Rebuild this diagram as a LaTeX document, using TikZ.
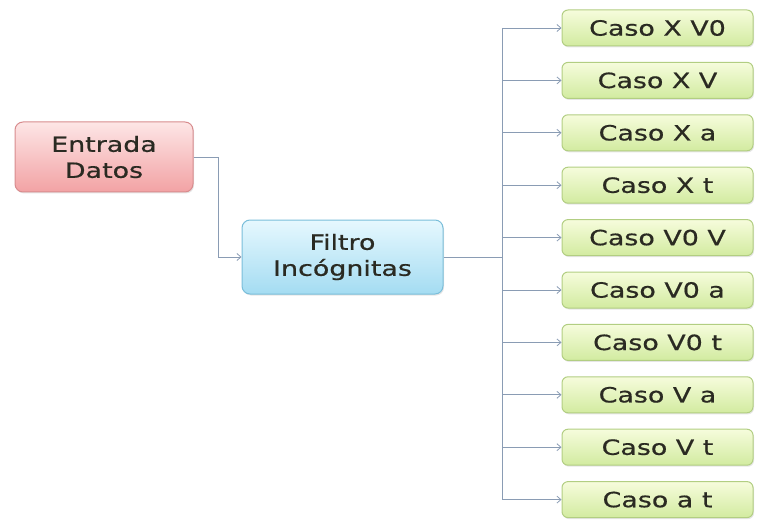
\documentclass[tikz,border=0pt]{standalone}
\usepackage{fontspec}
\setmainfont{DejaVu Sans}
\newfontfamily\boxfont[FakeStretch=1.28,FakeBold=0.6]{DejaVu Sans}
\usetikzlibrary{arrows.meta,shadows}
\definecolor{linec}{HTML}{8A9CB4}
\definecolor{redtop}{HTML}{FDE6E6}
\definecolor{redbot}{HTML}{F2A2A4}
\definecolor{redline}{HTML}{D88C8E}
\definecolor{bluetop}{HTML}{E6F8FE}
\definecolor{bluebot}{HTML}{A4DCF2}
\definecolor{blueline}{HTML}{7ABEDA}
\definecolor{greentop}{HTML}{F6FCDC}
\definecolor{greenbot}{HTML}{D2EBA0}
\definecolor{greenline}{HTML}{B2CE82}
\definecolor{txt}{HTML}{2A2A22}
\begin{document}
\begin{tikzpicture}[x=1pt,y=-1pt,
  box/.style={rounded corners=8pt, line width=1pt, align=center, font=\boxfont\fontsize{21}{26}\selectfont, text=txt, inner sep=0pt, drop shadow={shadow xshift=1pt,shadow yshift=-1.5pt,opacity=0.2}},
  redbox/.style={box, draw=redline, top color=redtop, bottom color=redbot, minimum width=178pt, minimum height=70pt},
  bluebox/.style={box, draw=blueline, top color=bluetop, bottom color=bluebot, minimum width=201pt, minimum height=74pt},
  greenbox/.style={box, draw=greenline, top color=greentop, bottom color=greenbot, minimum width=191pt, minimum height=36pt, rounded corners=6pt},
  conn/.style={draw=linec, line width=0.9pt},
  arr/.style={conn, -{Straight Barb[length=4pt,width=7pt,line width=0.8pt]}}
]
\useasboundingbox (0,0) rectangle (759,521);
\node[redbox] (ent) at (104,157) {Entrada\\Datos};
\node[bluebox] (fil) at (342.5,257) {Filtro\\Incógnitas};
\coordinate (j1) at (218,157);
\draw[arr] (ent.east) -- (j1) |- (fil.west);
\foreach \i/\t in {0/Caso X V0,1/Caso X V,2/Caso X a,3/Caso X t,4/Caso V0 V,5/Caso V0 a,6/Caso V0 t,7/Caso V a,8/Caso V t,9/Caso a t}{
  \node[greenbox] (c\i) at (657.5,{28+52.4*\i}) {\t};
}
\coordinate (tr) at (502,257);
\draw[conn] (fil.east) -- (tr);
\draw[conn] (tr |- c0.west) -- (tr |- c9.west);
\foreach \i in {0,...,9}{
  \draw[arr] (tr |- c\i.west) -- (c\i.west);
}
\end{tikzpicture}
\end{document}
